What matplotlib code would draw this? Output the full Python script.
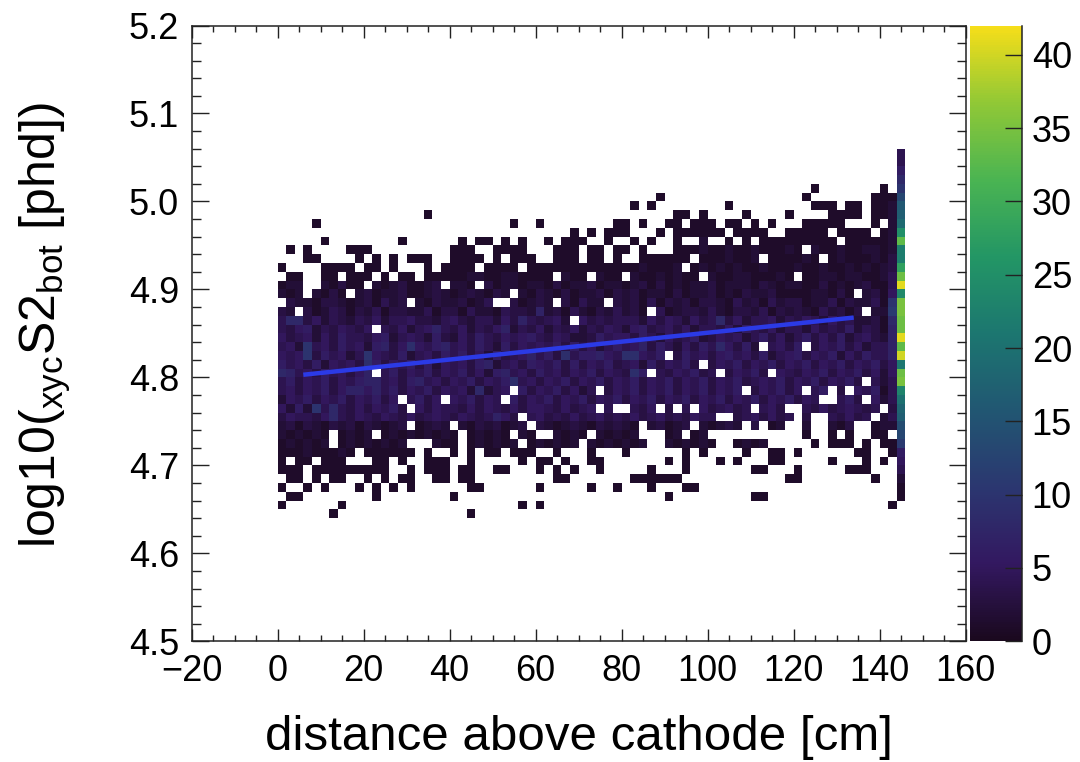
'''
distance vs log10 S2 bot, 2D histogram with the last drift bin piled up
'''
import numpy as np
import matplotlib
matplotlib.use("Agg")
import matplotlib.pyplot as plt
from matplotlib.colors import LinearSegmentedColormap

# counts per cell, top row first, columns are distance bins, "." = empty
rows = [
  "..........|..........|..........|..........|..........|..........|..........|..",
  "..........|..........|..........|..........|..........|..........|..........|..",
  "..........|..........|..........|..........|..........|..........|..........|..",
  "..........|..........|..........|..........|..........|..........|..........|..",
  "..........|..........|..........|..........|..........|..........|..1.......|1.",
  "..........|..........|..........|..........|....1.....|..........|.1.......1|11",
  "..........|..........|..........|..........|.1.1......|..1.......|..111.11.1|12",
  "..........|.......1..|..........|..........|......11.1|....1....1|....1111.1|12",
  "....1.....|..........|.......1..|1........1|1.1..11.11|1.11.1.1..|.11111...1|.2",
  "..........|..........|..........|....1.1.11|1...1.1111|11.1111..1|1111.1111.|12",
  ".....1....|....1.....|.1.11.1.1.|.1.111..1.|.1.1..1..2|..1.1.1111|11111.1111|12",
  ".1.1....11|1.........|111..1111.|..111.11.1|1.1...1112|1121121112|1.21121122|12",
  "...11....1|.1.1.111..|1111.1.111|..111.11.1|..111111.1|112112.111|121.121112|13",
  "1....1111.|11.1...1.1|111.1111.1|1111111111|1121112.12|1212112111|2112112121|23",
  ".11..11.11|1.1.11.111|1122112211|11.211.211|.21121211.|2112211121|.112212211|24",
  "122..21311|.21231123.|221.312212|2131223122|1231312122|3122213212|2113121231|14",
  "212.2131.2|3122311232|1232132.21|3213122313|2312213122|3121322311|1122131.23|15",
  ".322133212|31423.2132|23124..312|32.31422.3|2314132313|3214231423|3122413224|1a",
  "32.3124313|2413322413|3142214332|7231421324|231.412332|4213324132|32142313.2|2b",
  "4883524324|3524453324|5324425374|3452.53434|4425354253|4835244524|3542534223|18",
  "4356243543|5.43524574|3524357243|5243524354|2563453524|4352643524|4253436243|17",
  "5345253644|3562454263|2536435456|4354223645|5364253462|3545246352|4635362453|27",
  "452a453645|2673595467|4536426354|5463635246|4573642536|485362.453|6.35463524|47",
  "545a364524|a543624536|4635263457|4639466754|99546.3645|3564536245|6354625364|47",
  "6453625453|9635463625|4536724536|5463635463|452635463.|3546354635|4635463546|35",
  "8745364535|7.46354635|4635267453|6453546354|396.435463|4.35463.54|3546354635|25",
  "4635463546|7745367453|5463546945|3546354635|4635463546|3546345463|54635463.4|24",
  "4535463577|5746354635|4528245.63|5463524.35|4635463546|3546.35463|5.46.3.546|14",
  "2546354635|4635.4635.|546354.635|4635463546|3546354635|4635463546|354..463.5|24",
  "5262a48435|35463.5354|4353543535|5435345.4.|.435.3.4.5|34534.453.|.435345434|.3",
  "3544358435|4354353454|35434753.4|5343534534|3534534354|4..3453534|.3..43534.|24",
  "2313213231|32123.1232|.21323123.|3212321323|21.23123.2|1232.3.12.|.2..213..1|22",
  "212121.121|2.12121212|1.12121.21|..2121.212|12...12.12|..........|.1..1.1..1|1.",
  "121212.121|21212...21|1.121212.1|21212.2121|212..21212|1..1212...|..1.111.1.|11",
  "111211121.|111111.1..|1.1.11.111|..1...1...|1......1.1|....1..11.|1......11.|.1",
  "1.11.111..|.11.1..111|..1.....1.|11.1..11..|.....1.1..|.1.1...11.|....1...1.|1.",
  "111.111111|111..1.111|.11..11...|1.1.1..1..|...1...1..|.....11...|1.....111.|..",
  ".11.1.11..|1.1.11..11|.11.......|..11......|.111111...|.........1|1........1|..",
  "1..1.1...1|.1.1.1....|..11......|1.....1..1|...1...11.|..........|..........|..",
  ".11.......|.1........|1.........|..........|.....1....|.....11...|..........|..",
  "1......1..|..........|........1.|1.........|..........|..........|..........|.1",
  "......1...|..........|..1.......|..........|..........|..........|..........|..",
]
# the last bin (144-146 cm) goes above 35 so it is kept apart, top row first
last_bin = [4, 4, 6, 8, 10, 13, 16, 17, 19, 25, 33, 22, 22, 28, 34, 41, 24, 35, 35, 34,
            34, 41, 33, 40, 21, 34, 35, 23, 20, 18, 17, 14, 13, 11, 6, 5, 4, 2, 1, 1,
            np.nan, np.nan]
dist_edges = np.arange(0, 148, 2)
logs2_edges = np.arange(506, 463, -1)/100.
fit_dist = [6, 134]
fit_logs2 = [4.803, 4.868]

xticks = [-20, 0, 20, 40, 60, 80, 100, 120, 140, 160]
yticks = [4.5, 4.6, 4.7, 4.8, 4.9, 5.0, 5.1, 5.2]
zticks = [0, 5, 10, 15, 20, 25, 30, 35, 40]

# root's kViridis stops
root_r = [26, 51, 43, 33, 28, 35, 74, 144, 246]
root_g = [9, 24, 55, 87, 118, 150, 180, 200, 222]
root_b = [30, 96, 112, 114, 112, 101, 82, 54, 25]
root_viridis = LinearSegmentedColormap.from_list(
  "root_viridis", [(r/255., g/255., b/255.) for r, g, b in zip(root_r, root_g, root_b)])

#~~~~~~~~~~~~~~~~~~~~~~~~~~~~~~~~~main~~~~~~~~~~~~~~~~~~~~~~~~~~~~~~~~~~~~~~~~#
if __name__ == "__main__":
  plt.rcParams['font.family'] = ['Liberation Sans', 'DejaVu Sans']
  plt.rcParams['mathtext.fontset'] = 'custom'
  plt.rcParams['mathtext.rm'] = 'Liberation Sans'

  counts = []
  for row, last in zip(rows, last_bin):
    cells = [np.nan if c == "." else int(c, 36) for c in row.replace("|", "")]
    counts.append(cells + [last])
  counts = np.array(counts, dtype=float)

  fig = plt.figure(figsize=(10.8, 7.62), dpi=100)
  wid, hgt = 1080., 762.
  ax = fig.add_axes([191.5/wid, 1-641.3/hgt, 774./wid, 615.8/hgt])
  cax = fig.add_axes([970./wid, 1-641.3/hgt, 52./wid, 615.8/hgt])

  mesh = ax.pcolormesh(dist_edges, logs2_edges, counts, cmap=root_viridis, vmin=0, vmax=42,
                       linewidth=0, rasterized=True)
  ax.plot(fit_dist, fit_logs2, color="#2b3ae6", lw=3.2, solid_capstyle="butt")

  ax.set_xlim(-20, 160)
  ax.set_ylim(4.5, 5.2)
  ax.set_xticks(xticks)
  ax.set_yticks(yticks)
  ax.set_yticklabels(["%.1f" % y for y in yticks])
  ax.set_xticks(np.arange(-20, 161, 5), minor=True)
  ax.set_yticks(np.arange(450, 521, 2)/100., minor=True)
  ax.tick_params(which="both", direction="in", top=True, right=True, width=1.0, color="#222222")
  ax.tick_params(axis="x", which="major", length=8.6, labelsize=26, pad=9)
  ax.tick_params(axis="x", which="minor", length=4.3)
  ax.tick_params(axis="y", which="major", length=12.2, labelsize=26, pad=9)
  ax.tick_params(axis="y", which="minor", length=6.5)
  for s in ax.spines.values():
    s.set_linewidth(1.1)
    s.set_color("#222222")

  ax.set_xlabel("distance above cathode [cm]", fontsize=35.5)
  ax.xaxis.set_label_coords(0.5, -0.119, transform=ax.transAxes)
  ax.set_ylabel(r"log10($_{\mathrm{xyc}}$S2$_{\mathrm{bot}}$ [phd])", fontsize=36)
  ax.yaxis.set_label_coords(-0.153, 0.513, transform=ax.transAxes)

  cb = fig.colorbar(mesh, cax=cax)
  cb.set_ticks(zticks)
  cb.ax.minorticks_off()
  cax.tick_params(direction="in", length=12.2, width=1.0, labelsize=26, pad=7, color="#222222")
  cb.outline.set_visible(False)
  cax.spines["right"].set_visible(True)
  cax.spines["right"].set_linewidth(1.1)
  cax.spines["right"].set_color("#222222")

  fig.savefig("out.png", dpi=100)
